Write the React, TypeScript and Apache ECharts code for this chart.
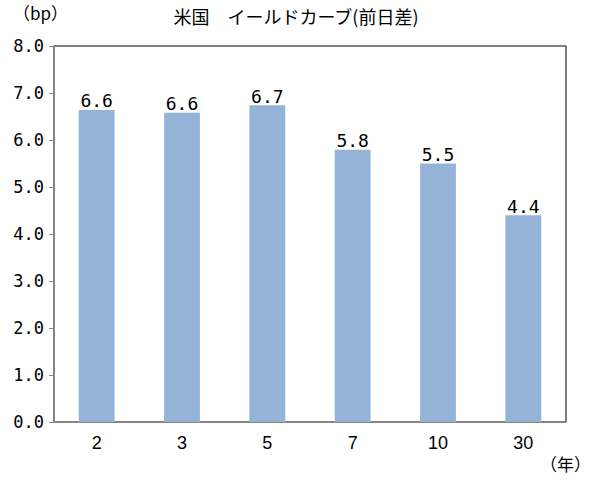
import React, { useEffect, useRef } from 'react'
import * as echarts from 'echarts'

// 年限
const maturities: string[] = ['2', '3', '5', '7', '10', '30']
// 前日差 (bp)
const changes: number[] = [6.64, 6.58, 6.74, 5.79, 5.5, 4.4]

const title = '米国　イールドカーブ(前日差)'
const yUnit = '（bp）'
const xUnit = '（年）'

const App: React.FC = () => {
    const chartRef = useRef<HTMLDivElement | null>(null)

    useEffect(() => {
        document.body.style.margin = '0'
        if (!chartRef.current) return
        const chart = echarts.init(chartRef.current, undefined, { renderer: 'svg' })

        const option = {
            animation: false,
            backgroundColor: '#fff',
            title: {
                text: title,
                left: 'center',
                top: 2,
                textStyle: {
                    fontFamily: 'Noto Sans CJK JP',
                    fontSize: 18,
                    fontWeight: 'normal',
                    color: '#000',
                },
            },
            graphic: [
                {
                    type: 'text',
                    left: 13,
                    top: 4,
                    style: { text: yUnit, font: '17px "Noto Sans CJK JP"', fill: '#000' },
                },
                {
                    type: 'text',
                    left: 540,
                    top: 455,
                    style: { text: xUnit, font: '17px "Noto Sans CJK JP"', fill: '#000' },
                },
            ],
            grid: {
                left: 54,
                top: 46,
                width: 512,
                height: 376,
                show: true,
                borderColor: '#000',
                borderWidth: 1,
            },
            xAxis: {
                type: 'category',
                data: maturities,
                axisLine: { lineStyle: { color: '#888', width: 1.5 } },
                axisTick: { show: false },
                axisLabel: {
                    color: '#000',
                    fontSize: 18,
                    fontFamily: 'Liberation Sans',
                    margin: 12,
                },
            },
            yAxis: {
                type: 'value',
                min: 0,
                max: 8,
                interval: 1,
                axisLine: { show: true, lineStyle: { color: '#888', width: 1.5 } },
                axisTick: { show: true, length: 5, lineStyle: { color: '#888' } },
                splitLine: { show: false },
                axisLabel: {
                    color: '#000',
                    fontSize: 17,
                    fontFamily: 'DejaVu Sans Mono',
                    margin: 10,
                    formatter: (v: number) => v.toFixed(1),
                },
            },
            series: [
                {
                    type: 'bar',
                    data: changes,
                    barWidth: '42%',
                    itemStyle: { color: '#95B3D7' },
                    label: {
                        show: true,
                        position: 'top',
                        distance: 0,
                        color: '#000',
                        fontSize: 18,
                        fontFamily: 'DejaVu Sans Mono',
                        formatter: (p: any) => Number(p.value).toFixed(1),
                    },
                },
            ],
        }

        chart.setOption(option as any)
        return () => {
            chart.dispose()
        }
    }, [])

    return <div ref={chartRef} style={{ width: 592, height: 482 }} />
}

export default App
